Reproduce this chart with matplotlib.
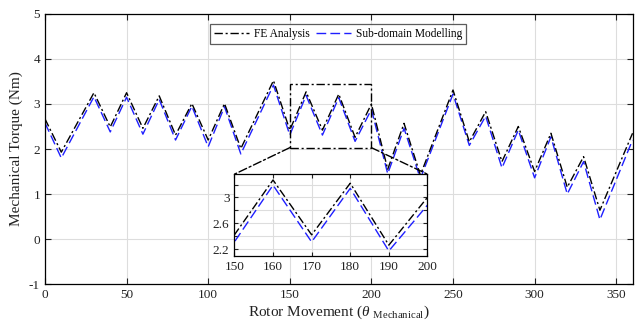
import matplotlib
matplotlib.use("Agg")
import matplotlib.pyplot as plt
from matplotlib.patches import Rectangle, ConnectionPatch

plt.rcParams['font.family'] = ['Liberation Serif', 'DejaVu Serif']
plt.rcParams['mathtext.fontset'] = 'custom'
plt.rcParams['mathtext.rm'] = 'Liberation Serif'
plt.rcParams['mathtext.it'] = 'Liberation Serif:italic'
plt.rcParams['axes.unicode_minus'] = False

angle = [0, 10, 30, 40, 50, 60, 70, 80, 90, 100, 110, 120, 140, 150, 160, 170,
         180, 190, 200, 210, 220, 230, 250, 260, 270, 280, 290, 300, 310, 320,
         330, 340, 360]
fe_torque = [2.67, 1.93, 3.25, 2.49, 3.25, 2.46, 3.18, 2.31, 3.01, 2.2, 3.01, 2.01,
             3.52, 2.42, 3.27, 2.42, 3.22, 2.26, 3.0, 1.55, 2.57, 1.42, 3.31, 2.16,
             2.83, 1.72, 2.5, 1.5, 2.35, 1.15, 1.83, 0.64, 2.35]
sd_torque = [2.58, 1.8, 3.16, 2.38, 3.15, 2.33, 3.1, 2.2, 2.95, 2.05, 2.94, 1.89,
             3.42, 2.31, 3.19, 2.31, 3.14, 2.17, 2.88, 1.45, 2.46, 1.34, 3.22, 2.08,
             2.73, 1.58, 2.42, 1.36, 2.27, 1.0, 1.72, 0.43, 2.2]

xticks = [0, 50, 100, 150, 200, 250, 300, 350]
yticks = [-1, 0, 1, 2, 3, 4, 5]
inset_xticks = [150, 160, 170, 180, 190, 200]
inset_yticks = [2.2, 2.4, 2.6, 2.8, 3.0, 3.2]
inset_ylabels = ['2.2', '', '2.6', '', '3', '']

fig = plt.figure(figsize=(6.37, 3.25), dpi=100)
ax = fig.add_axes([0.0706, 0.126, 0.9224, 0.831])

fe_style = dict(color='black', linestyle=(0, (6, 2, 1.5, 2)), linewidth=1.0)
sd_style = dict(color='#1f1fff', linestyle=(0, (7, 3)), linewidth=1.0)

ax.plot(angle, sd_torque, label='Sub-domain Modelling', **sd_style, zorder=2)
ax.plot(angle, fe_torque, label='FE Analysis', **fe_style, zorder=3)

ax.set_xlim(0, 360)
ax.set_ylim(-1, 5)
ax.set_xticks(xticks)
ax.set_yticks(yticks)
ax.grid(True, color='#dddddd', linewidth=0.8)
ax.set_axisbelow(True)
ax.tick_params(direction='in', top=True, right=True, labelsize=9.5,
               colors='#222222', length=4)
for s in ax.spines.values():
    s.set_linewidth(0.9)
ax.set_xlabel(r'Rotor Movement ($\theta$ $_{\rm Mechanical}$)', fontsize=11,
              labelpad=2, color='#222222')
ax.set_ylabel('Mechanical Torque (Nm)', fontsize=11, labelpad=4, color='#222222')

h, l = ax.get_legend_handles_labels()
leg = ax.legend([h[1], h[0]], [l[1], l[0]], loc='upper center', ncol=2,
                bbox_to_anchor=(0.499, 0.985), fontsize=8.3, frameon=True,
                fancybox=False, edgecolor='#333333', handlelength=3,
                columnspacing=0.6, borderpad=0.35, handletextpad=0.4)
leg.get_frame().set_linewidth(0.9)

# zoom rectangle
rect_y0, rect_y1 = 2.03, 3.44
ax.add_patch(Rectangle((150, rect_y0), 50, rect_y1 - rect_y0, fill=False,
                       **fe_style, zorder=4))

axins = fig.add_axes([0.368, 0.212, 0.303, 0.252])
axins.plot(angle, sd_torque, **sd_style)
axins.plot(angle, fe_torque, **fe_style)
axins.set_xlim(150, 200)
axins.set_ylim(2.09, 3.36)
axins.set_xticks(inset_xticks)
axins.set_yticks(inset_yticks)
axins.set_yticklabels(inset_ylabels)
axins.grid(True, color='#dddddd', linewidth=0.8)
axins.tick_params(direction='in', top=True, right=True, labelsize=9.5,
                  colors='#222222', length=3)
for s in axins.spines.values():
    s.set_linewidth(0.9)

for xa, xb in [(150, 0), (200, 1)]:
    con = ConnectionPatch(xyA=(xa, rect_y0), coordsA=ax.transData,
                          xyB=(xb, 1), coordsB=axins.transAxes,
                          **fe_style)
    fig.add_artist(con)

fig.savefig('out.png', dpi=100)
